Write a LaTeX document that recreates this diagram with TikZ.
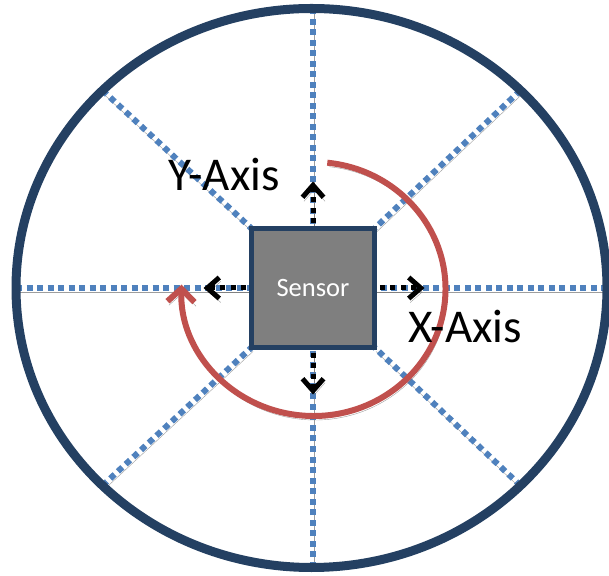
\documentclass[tikz,border=0pt]{standalone}
\usepackage{fontspec}
\setmainfont{Carlito}
\usetikzlibrary{arrows.meta, positioning, shapes.geometric, backgrounds}
\definecolor{navy}{RGB}{36,64,98}
\definecolor{dotblue}{RGB}{79,129,189}
\definecolor{arcred}{RGB}{192,80,77}
\definecolor{boxgray}{RGB}{127,127,127}
\tikzset{
    rimline/.style={ellipse, draw=navy, line width=9pt, minimum width=591pt,
                    minimum height=559pt, outer sep=0pt},
    sensorbox/.style={rectangle, draw=navy, fill=boxgray, line width=5.5pt,
                      minimum width=123pt, minimum height=119pt, outer sep=0pt,
                      text=white, font=\fontsize{26.5}{32}\selectfont},
    shadowed/.style={preaction={draw=black!55, opacity=0.7,
                     transform canvas={shift={(1.5pt,-4pt)}}}},
    gridline/.style={draw=dotblue, line width=6pt, dash pattern=on 6pt off 4.5pt, shadowed},
    axisarrow/.style={draw=black, line width=5pt, dash pattern=on 5pt off 5.5pt,
                      dash phase=5.25pt,
                      -{Straight Barb[length=12pt, width=21pt, line width=5pt]}, shadowed},
    turnarrow/.style={draw=arcred, line width=6pt,
                      -{Straight Barb[length=13pt, width=27pt, line width=6pt]}, shadowed},
    axislabel/.style={font=\fontsize{47}{54}\selectfont, inner sep=0pt},
}

\begin{document}
\begin{tikzpicture}[x=1pt, y=1pt]
    \useasboundingbox (0,0) rectangle (609,575);

    % Rim and sensor
    \node[rimline] (rim) at (311.5,287) {};
    \node[sensorbox] (sensor) at (313,287) {Sensor};

    % Arrow tips
    \coordinate[above=47pt of sensor.north] (uptip);
    \coordinate[below=47pt of sensor.south] (downtip);
    \coordinate[left=48pt of sensor.west] (lefttip);
    \coordinate[right=50pt of sensor.east] (righttip);

    \begin{scope}[on background layer]
        % Dotted grid lines
        \draw[gridline] (rim.north -| sensor) -- (sensor.north);
        \draw[gridline] (rim.south -| sensor) -- (sensor.south);
        \draw[gridline] (rim.west |- sensor) -- (sensor.west);
        \draw[gridline] (rim.east |- sensor) -- (sensor.east);
        \draw[gridline] (rim.north west) -- (sensor.north west);
        \draw[gridline] (rim.north east) -- (sensor.north east);
        \draw[gridline] (rim.south west) -- (sensor.south west);
        \draw[gridline] (rim.south east) -- (sensor.south east);

        % Axis arrows
        \draw[axisarrow] (sensor.north) -- (uptip);
        \draw[axisarrow] (sensor.south) -- (downtip);
        \draw[axisarrow] (sensor.west) -- (lefttip);
        \draw[axisarrow] (sensor.east) -- (righttip);
    \end{scope}

    % Rotation arrow
    \coordinate (pivot) at (313.5,286);
    \draw[turnarrow] ([shift={(84:132 and 127)}]pivot)
        arc[start angle=84, end angle=-182, x radius=132, y radius=127];

    % Labels
    \node[axislabel, anchor=base west] (ylabel) at (168,384) {Y-Axis};
    \node[axislabel, anchor=base west] (xlabel) at (408,232) {X-Axis};
\end{tikzpicture}
\end{document}
